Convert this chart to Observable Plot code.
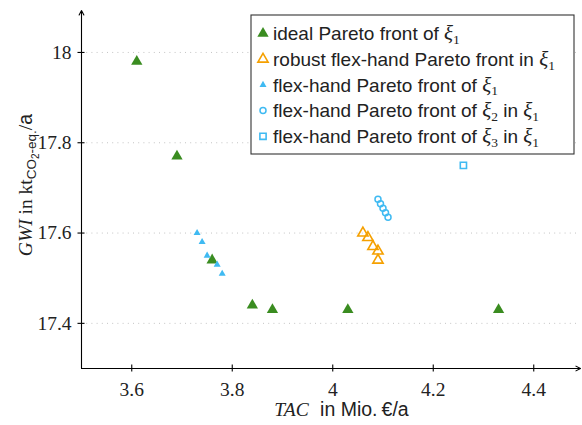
<!DOCTYPE html>
<html>
<head>
<meta charset="utf-8">
<script src="https://cdn.jsdelivr.net/npm/d3@7"></script>
<script src="https://cdn.jsdelivr.net/npm/@observablehq/plot@0.6"></script>
<style>
  html, body { margin: 0; padding: 0; background: #fff; }
  svg { display: block; }
</style>
</head>
<body>
<div id="chart"></div>
<script>
// ---- data ----
const xTicks = [3.6, 3.8, 4.0, 4.2, 4.4];
const yTicks = [17.4, 17.6, 17.8, 18.0];
const xTickLabels = ["3.6", "3.8", "4", "4.2", "4.4"];
const yTickLabels = ["17.4", "17.6", "17.8", "18"];

const idealTAC = [3.61, 3.69, 3.76, 3.84, 3.88, 4.03, 4.33];
const idealGWI = [17.98, 17.77, 17.54, 17.44, 17.43, 17.43, 17.43];

const robustTAC = [4.06, 4.07, 4.08, 4.09, 4.09];
const robustGWI = [17.60, 17.59, 17.57, 17.56, 17.54];

const flexTAC = [3.73, 3.74, 3.75, 3.77, 3.78];
const flexGWI = [17.60, 17.58, 17.55, 17.53, 17.51];

const flex2TAC = [4.09, 4.095, 4.10, 4.105, 4.11];
const flex2GWI = [17.675, 17.665, 17.655, 17.645, 17.635];

const flex3TAC = [4.26];
const flex3GWI = [17.75];

const legendLabels = [
  ["ideal Pareto front of ", "1", null],
  ["robust flex-hand Pareto front in ", "1", null],
  ["flex-hand Pareto front of ", "1", null],
  ["flex-hand Pareto front of ", "2", "1"],
  ["flex-hand Pareto front of ", "3", "1"]
];

// ---- styles ----
const GREEN = "#3a8c20";
const ORANGE = "#f5a000";
const BLUE = "#3fbaf2";
const SERIF = "'Liberation Serif', 'DejaVu Serif', serif";
const SANS = "'Liberation Sans', 'DejaVu Sans', sans-serif";

const zip = (xs, ys) => xs.map((x, i) => ({x, y: ys[i]}));
const ideal = zip(idealTAC, idealGWI);
const robust = zip(robustTAC, robustGWI);
const flex = zip(flexTAC, flexGWI);
const flex2 = zip(flex2TAC, flex2GWI);
const flex3 = zip(flex3TAC, flex3GWI);

const xMin = 3.5, yMin = 17.3;
const xArrow = 4.493, yArrow = 18.093;

const chart = Plot.plot({
  width: 582,
  height: 425,
  marginLeft: 81,
  marginBottom: 57,
  marginTop: 6.8,
  marginRight: 0,
  x: {domain: [3.5, 4.5], range: [81, 583.5], axis: null},
  y: {domain: [17.3, 18.1], axis: null},
  style: {background: "white", overflow: "visible"},
  marks: [
    // dotted grid
    Plot.ruleY(yTicks, {x1: xMin, x2: 4.49, stroke: "#c4c4c4", strokeWidth: 1, strokeDasharray: "1,4.2"}),
    // axis lines with arrows
    Plot.arrow([0], {x1: xMin, y1: yMin, x2: xArrow, y2: yMin, stroke: "black", strokeWidth: 1.1, headLength: 7, headAngle: 55}),
    Plot.arrow([0], {x1: xMin, y1: yMin, x2: xMin, y2: yArrow, stroke: "black", strokeWidth: 1.1, headLength: 7, headAngle: 55}),
    // tick marks crossing axis
    Plot.ruleX(xTicks, {y1: yMin - 0.0078, y2: yMin + 0.0078, stroke: "black", strokeWidth: 1.1}),
    Plot.ruleY(yTicks, {x1: xMin - 0.007, x2: xMin + 0.007, stroke: "black", strokeWidth: 1.1}),
    // tick labels
    Plot.text(xTicks, {x: d => d, y: yMin, text: (d, i) => xTickLabels[i], dy: 21, lineAnchor: "middle", textAnchor: "middle", fontSize: 19.5, fontFamily: SERIF, fill: "#222"}),
    Plot.text(yTicks, {x: xMin, y: d => d, text: (d, i) => yTickLabels[i], dx: -10, lineAnchor: "middle", textAnchor: "end", fontSize: 19.5, fontFamily: SERIF, fill: "#222"}),
    // data
    Plot.dot(ideal, {x: "x", y: "y", symbol: "triangle", r: 4.2, fill: GREEN, stroke: null}),
    Plot.dot(flex, {x: "x", y: "y", symbol: "triangle", r: 2.6, fill: BLUE, stroke: null}),
    Plot.dot(robust, {x: "x", y: "y", symbol: "triangle", r: 3.8, fill: "white", fillOpacity: 0, stroke: ORANGE, strokeWidth: 1.6}),
    Plot.dot(flex2, {x: "x", y: "y", symbol: "circle", r: 3, fill: "none", stroke: BLUE, strokeWidth: 1.5}),
    Plot.dot(flex3, {x: "x", y: "y", symbol: "square", r: 3.5, fill: "none", stroke: BLUE, strokeWidth: 1.6})
  ]
});

document.getElementById("chart").appendChild(chart);

const svg = d3.select(chart);

// ---- axis labels ----
const xl = svg.append("text")
  .attr("x", 341.5).attr("y", 416)
  .attr("text-anchor", "middle")
  .attr("font-size", 19.5).attr("fill", "#222");
xl.append("tspan").attr("font-family", SERIF).attr("font-style", "italic").text("TAC");
xl.append("tspan").attr("font-family", SANS).attr("dx", 6).text(" in Mio.");
xl.append("tspan").attr("font-family", SANS).attr("dx", 4).text("€/a");

const yl = svg.append("text")
  .attr("transform", "translate(32,185) rotate(-90)")
  .attr("text-anchor", "middle")
  .attr("font-size", 19.5).attr("fill", "#222");
yl.append("tspan").attr("font-family", SERIF).attr("font-style", "italic").text("GWI");
yl.append("tspan").attr("font-family", SERIF).text(" in kt");
yl.append("tspan").attr("font-family", SANS).attr("font-size", 13.5).attr("dy", 4).text("CO");
yl.append("tspan").attr("font-family", SANS).attr("font-size", 10).attr("dy", 2.5).text("2");
yl.append("tspan").attr("font-family", SANS).attr("font-size", 13.5).attr("dy", -2.5).text("-eq.");
yl.append("tspan").attr("font-family", SERIF).attr("dy", -4).text("/");
yl.append("tspan").attr("font-family", SANS).text("a");

// ---- legend ----
const lg = svg.append("g");
lg.append("rect").attr("x", 251).attr("y", 15).attr("width", 323).attr("height", 139)
  .attr("fill", "white").attr("stroke", "#333").attr("stroke-width", 1.1);

const area = r => r * r * Math.PI;
const legendMarkers = [
  {type: d3.symbolTriangle, r: 4.2, fill: GREEN, stroke: "none", sw: 0},
  {type: d3.symbolTriangle, r: 3.8, fill: "none", stroke: ORANGE, sw: 1.6},
  {type: d3.symbolTriangle, r: 2.6, fill: BLUE, stroke: "none", sw: 0},
  {type: d3.symbolCircle, r: 3, fill: "none", stroke: BLUE, sw: 1.5},
  {type: d3.symbolSquare, r: 3.5, fill: "none", stroke: BLUE, sw: 1.6}
];

legendLabels.forEach((lab, i) => {
  const cy = 33.5 + i * 25.7;
  const m = legendMarkers[i];
  lg.append("path")
    .attr("d", d3.symbol(m.type, area(m.r))())
    .attr("transform", `translate(263,${cy})`)
    .attr("fill", m.fill).attr("stroke", m.stroke).attr("stroke-width", m.sw);
  const t = lg.append("text").attr("x", 273).attr("y", cy + 6.8)
    .attr("text-anchor", "start")
    .attr("font-size", 19).attr("font-family", SANS).attr("fill", "#222");
  t.append("tspan").text(lab[0]);
  t.append("tspan").attr("font-family", SERIF).attr("font-style", "italic").attr("font-size", 21).text("ξ");
  t.append("tspan").attr("font-family", SERIF).attr("font-size", 13.5).attr("dy", 3.5).text(lab[1]);
  if (lab[2]) {
    t.append("tspan").attr("dy", -3.5).text(" in ");
    t.append("tspan").attr("font-family", SERIF).attr("font-style", "italic").attr("font-size", 21).text("ξ");
    t.append("tspan").attr("font-family", SERIF).attr("font-size", 13.5).attr("dy", 3.5).text(lab[2]);
  }
});
</script>
</body>
</html>
